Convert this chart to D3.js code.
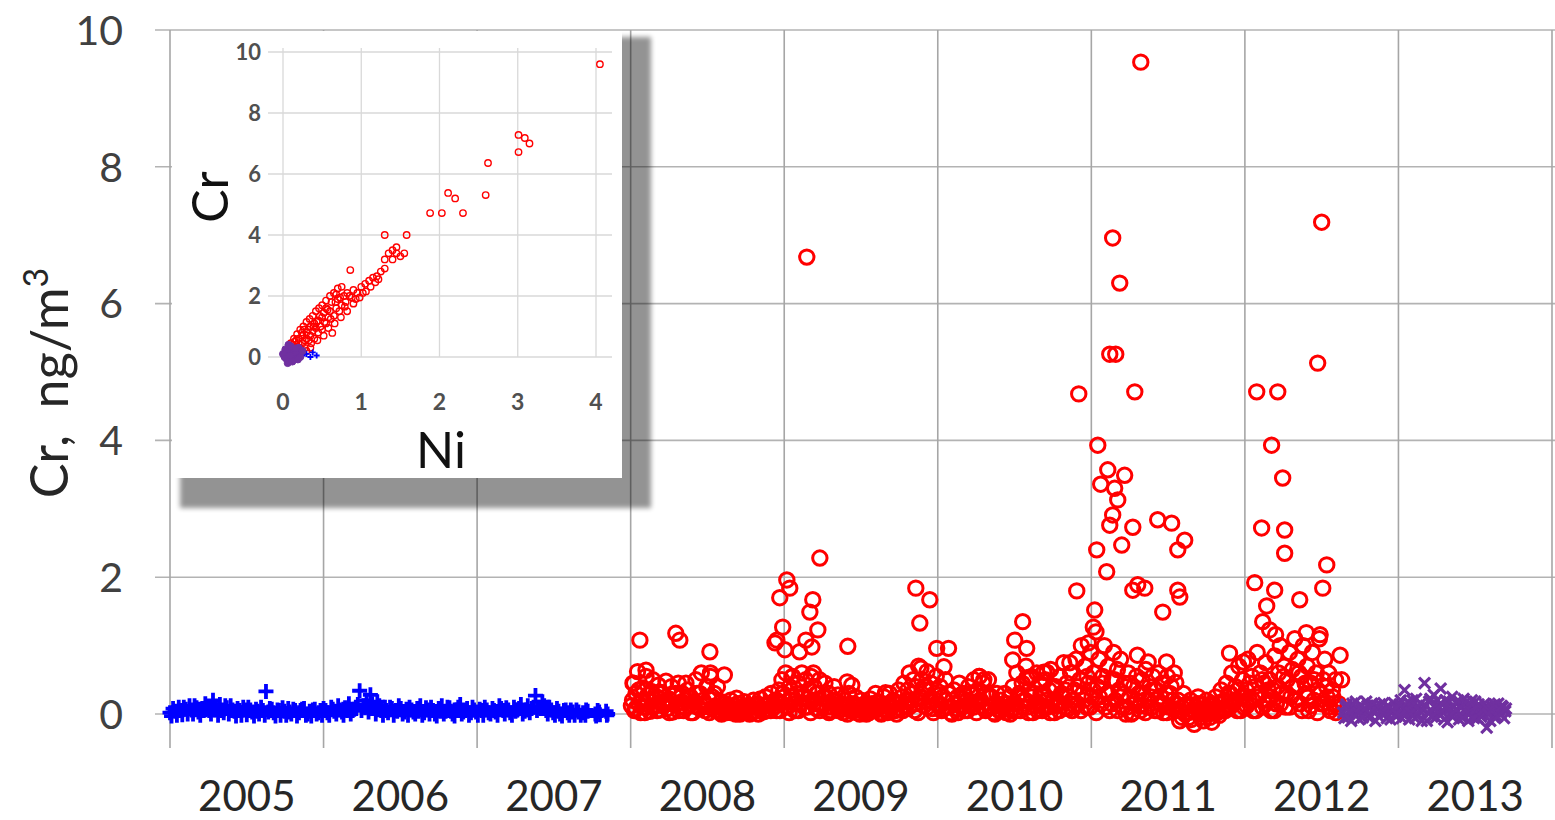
<!DOCTYPE html>
<html><head><meta charset="utf-8">
<script src="https://cdn.jsdelivr.net/npm/d3@7"></script>
<style>html,body{margin:0;padding:0;background:#fff;}svg{display:block;font-family:Lato,"Open Sans",sans-serif;}</style>
</head><body>
<svg id="chart" width="1555" height="820"></svg>
<script>
// ---------- data ----------
const yearTicks = [2005,2006,2007,2008,2009,2010,2011,2012,2013];
const yTicks = [0,2,4,6,8,10];
const insetXTicks = [0,1,2,3,4];
const insetYTicks = [0,2,4,6,8,10];

// Blue series (2005-2007): [decimal year, Cr ng/m3]
const blueSeries = [
[2005.00,0.02],[2005.02,0.08],[2005.045,-0.02],[2005.07,0.05],[2005.09,0.1],[2005.115,0.0],[2005.14,0.06],[2005.16,0.12],[2005.185,0.03],[2005.21,0.08],[2005.23,0.15],[2005.255,0.05],[2005.28,0.2],[2005.30,0.1],[2005.325,0.14],[2005.35,0.02],[2005.37,0.09],[2005.395,0.12],[2005.42,0.04],[2005.44,0.08],[2005.465,-0.02],[2005.49,0.06],[2005.51,0.1],[2005.535,0.03],[2005.56,0.07],[2005.58,0.0],[2005.605,0.05],[2005.625,0.33],[2005.65,0.08],[2005.675,0.02],[2005.70,0.06],[2005.72,-0.02],[2005.745,0.04],[2005.77,0.08],[2005.79,0.0],[2005.815,0.05],[2005.84,0.02],[2005.86,0.07],[2005.885,-0.02],[2005.91,0.04],[2005.93,0.06],[2005.955,0.0],[2005.98,0.05],
[2006.00,0.08],[2006.025,0.02],[2006.05,0.1],[2006.07,0.04],[2006.095,0.12],[2006.12,0.03],[2006.14,0.09],[2006.165,0.15],[2006.19,0.05],[2006.21,0.1],[2006.235,0.34],[2006.26,0.12],[2006.28,0.2],[2006.305,0.28],[2006.33,0.08],[2006.35,0.18],[2006.375,0.05],[2006.40,0.1],[2006.42,0.02],[2006.445,0.08],[2006.47,0.05],[2006.49,0.12],[2006.515,0.0],[2006.54,0.07],[2006.56,0.1],[2006.585,0.03],[2006.61,0.08],[2006.63,0.12],[2006.655,0.02],[2006.68,0.06],[2006.70,0.1],[2006.725,0.0],[2006.75,0.08],[2006.77,0.12],[2006.795,0.04],[2006.82,0.09],[2006.84,0.0],[2006.865,0.06],[2006.89,0.14],[2006.91,0.03],[2006.935,0.08],[2006.96,0.02],[2006.98,0.06],
[2007.005,-0.02],[2007.03,0.05],[2007.05,0.1],[2007.075,0.02],[2007.10,0.08],[2007.12,0.03],[2007.145,0.12],[2007.17,0.05],[2007.19,0.09],[2007.215,0.02],[2007.24,0.1],[2007.26,0.06],[2007.285,0.14],[2007.31,0.04],[2007.33,0.12],[2007.355,0.08],[2007.38,0.27],[2007.40,0.1],[2007.425,0.18],[2007.45,0.05],[2007.47,0.1],[2007.495,0.02],[2007.52,0.08],[2007.54,0.0],[2007.565,0.05],[2007.59,0.02],[2007.61,0.06],[2007.635,-0.02],[2007.66,0.03],[2007.69,0.02],[2007.705,-0.02],[2007.72,0.04],[2007.77,0.0],[2007.785,0.05],[2007.80,-0.01],[2007.84,0.04],[2007.85,0.0],
[2005.01,-0.03],[2005.033,0.04],[2005.057,0.1],[2005.08,-0.01],[2005.103,0.07],[2005.127,0.12],[2005.15,0.0],[2005.173,0.09],[2005.197,-0.02],[2005.22,0.05],[2005.243,0.1],[2005.267,0.0],[2005.29,0.06],[2005.313,-0.02],[2005.337,0.05],[2005.36,0.12],[2005.383,0.0],[2005.407,0.06],[2005.43,-0.03],[2005.453,0.05],[2005.477,0.1],[2005.50,-0.01],[2005.523,0.06],[2005.547,-0.03],[2005.57,0.04],[2005.593,0.1],[2005.617,-0.02],[2005.64,0.03],[2005.663,0.07],[2005.687,-0.03],[2005.71,0.05],[2005.733,0.09],[2005.757,-0.02],[2005.78,0.03],[2005.803,0.07],[2005.827,-0.03],[2005.85,0.05],[2005.873,0.08],[2005.897,0.0],[2005.92,-0.03],[2005.943,0.07],[2005.967,0.02],[2005.99,-0.02],
[2006.013,0.05],[2006.037,-0.02],[2006.06,0.07],[2006.083,0.0],[2006.107,0.06],[2006.13,-0.02],[2006.153,0.05],[2006.177,0.0],[2006.20,0.07],[2006.223,0.14],[2006.247,0.05],[2006.27,0.09],[2006.293,0.03],[2006.317,0.15],[2006.34,0.0],[2006.363,0.12],[2006.387,-0.02],[2006.41,0.05],[2006.433,0.1],[2006.457,-0.02],[2006.48,0.04],[2006.503,0.08],[2006.527,0.03],[2006.55,-0.02],[2006.573,0.06],[2006.597,0.0],[2006.62,0.04],[2006.643,-0.02],[2006.667,0.09],[2006.69,0.0],[2006.713,0.05],[2006.737,-0.03],[2006.76,0.04],[2006.783,0.0],[2006.807,0.1],[2006.83,0.04],[2006.853,-0.03],[2006.877,0.1],[2006.90,0.0],[2006.923,0.05],[2006.947,-0.02],[2006.97,0.1],[2006.993,0.03],
[2007.017,0.07],[2007.04,-0.02],[2007.063,0.06],[2007.087,0.0],[2007.11,0.05],[2007.133,-0.02],[2007.157,0.08],[2007.18,0.0],[2007.203,0.06],[2007.227,-0.02],[2007.25,0.04],[2007.273,0.08],[2007.297,0.0],[2007.32,0.06],[2007.343,0.02],[2007.367,0.1],[2007.39,0.05],[2007.413,0.08],[2007.437,0.12],[2007.46,0.0],[2007.483,0.06],[2007.507,-0.02],[2007.53,0.04],[2007.553,-0.03],[2007.577,0.06],[2007.60,-0.02],[2007.623,0.03],[2007.647,0.06],[2007.675,-0.02],[2007.71,0.06],[2007.775,-0.03],[2007.795,0.03],[2007.845,-0.02]
];

// Red series (2008-2012): [decimal year, Cr ng/m3]
const redSeries = [
[2008.005,0.12],[2008.015,0.45],[2008.025,0.05],[2008.035,0.3],[2008.045,0.62],[2008.055,0.15],[2008.065,0.02],[2008.08,0.38],[2008.09,0.1],[2008.1,0.55],[2008.11,0.2],[2008.125,0.04],[2008.135,0.33],[2008.145,0.5],[2008.16,0.12],[2008.17,0.25],[2008.18,0.42],[2008.195,0.06],[2008.205,0.3],[2008.215,0.18],[2008.23,0.48],[2008.24,0.08],[2008.25,0.22],[2008.265,0.4],[2008.275,0.03],[2008.285,0.28],[2008.3,0.15],[2008.31,0.45],[2008.32,0.1],[2008.335,0.3],[2008.345,0.05],[2008.355,0.2],[2008.37,0.35],[2008.38,0.12],[2008.39,0.25],[2008.405,0.02],[2008.415,0.18],[2008.425,0.5],[2008.44,0.1],[2008.45,0.3],[2008.46,0.6],[2008.475,0.15],[2008.485,0.05],[2008.495,0.4],[2008.51,0.22],[2008.52,0.55],[2008.53,0.08],[2008.545,0.3],[2008.555,0.12],[2008.565,0.4],[2008.58,0.03],[2008.59,0.18],[2008.6,0.08],[2008.615,0.15],[2008.625,0.02],[2008.635,0.1],[2008.65,0.2],[2008.66,0.05],[2008.67,0.12],[2008.685,0.0],[2008.695,0.15],[2008.705,0.06],[2008.72,0.1],[2008.73,0.02],[2008.74,0.18],[2008.755,0.08],[2008.765,0.12],[2008.775,0.0],[2008.79,0.1],[2008.8,0.2],[2008.81,0.05],[2008.825,0.15],[2008.835,0.08],[2008.845,0.22],[2008.86,0.03],[2008.87,0.12],[2008.88,0.25],[2008.895,0.06],[2008.905,0.15],[2008.915,0.3],[2008.93,0.1],[2008.94,0.2],[2008.95,0.05],
[2008.965,0.35],[2008.975,0.15],[2008.985,0.5],[2009.0,0.25],[2009.01,0.6],[2009.02,0.1],[2009.035,0.4],[2009.045,0.2],[2009.055,0.55],[2009.07,0.05],[2009.08,0.3],[2009.09,0.45],[2009.105,0.15],[2009.115,0.6],[2009.125,0.25],[2009.14,0.5],[2009.15,0.1],[2009.16,0.35],[2009.175,0.55],[2009.185,0.2],[2009.195,0.4],[2009.21,0.08],[2009.22,0.3],[2009.23,0.5],[2009.245,0.15],[2009.255,0.25],[2009.265,0.45],[2009.28,0.1],[2009.29,0.3],[2009.3,0.05],[2009.315,0.2],[2009.325,0.4],[2009.335,0.12],[2009.35,0.28],[2009.36,0.05],
[2009.37,0.15],[2009.385,0.02],[2009.395,0.2],[2009.405,0.1],[2009.42,0.3],[2009.43,0.05],[2009.44,0.42],[2009.455,0.15],[2009.465,0.25],[2009.475,0.02],[2009.49,0.12],[2009.5,0.2],[2009.51,0.05],[2009.525,0.15],[2009.535,0.0],[2009.545,0.1],[2009.56,0.22],[2009.57,0.05],[2009.58,0.12],[2009.595,0.3],[2009.605,0.08],[2009.615,0.18],[2009.63,0.02],[2009.64,0.12],[2009.65,0.25],[2009.665,0.05],[2009.675,0.15],[2009.685,0.3],[2009.7,0.1],[2009.71,0.2],[2009.72,0.05],[2009.735,0.15],[2009.745,0.35],[2009.755,0.08],
[2009.77,0.25],[2009.78,0.45],[2009.79,0.1],[2009.805,0.35],[2009.815,0.6],[2009.825,0.2],[2009.84,0.5],[2009.85,0.05],[2009.86,0.4],[2009.875,0.7],[2009.885,0.25],[2009.895,0.5],[2009.91,0.12],[2009.92,0.35],[2009.93,0.62],[2009.945,0.2],[2009.955,0.45],[2009.965,0.08],[2009.98,0.3],[2009.99,0.55],[2010.0,0.15],[2010.015,0.4],[2010.025,0.05],[2010.035,0.25],[2010.05,0.5],[2010.06,0.1],[2010.07,0.3],[2010.085,0.02],[2010.095,0.2],
[2010.105,0.35],[2010.12,0.08],[2010.13,0.25],[2010.14,0.45],[2010.155,0.1],[2010.165,0.3],[2010.175,0.05],[2010.19,0.2],[2010.2,0.4],[2010.21,0.12],[2010.225,0.28],[2010.235,0.5],[2010.245,0.15],[2010.26,0.35],[2010.27,0.55],[2010.28,0.2],[2010.295,0.45],[2010.305,0.08],[2010.315,0.3],[2010.33,0.5],[2010.34,0.1],[2010.35,0.25],[2010.365,0.02],[2010.375,0.15],[2010.385,0.3],[2010.4,0.05],[2010.41,0.2],[2010.42,0.1],[2010.435,0.3],[2010.445,0.02],[2010.455,0.15],[2010.47,0.25],[2010.48,0.05],[2010.49,0.4],
[2010.505,0.15],[2010.515,0.6],[2010.525,0.25],[2010.54,0.05],[2010.55,0.45],[2010.56,0.2],[2010.575,0.7],[2010.585,0.1],[2010.595,0.35],[2010.61,0.55],[2010.62,0.02],[2010.63,0.3],[2010.645,0.6],[2010.655,0.15],[2010.665,0.45],[2010.68,0.05],[2010.69,0.25],[2010.7,0.5],[2010.715,0.1],[2010.725,0.35],[2010.735,0.65],[2010.75,0.2],[2010.76,0.02],[2010.77,0.4],[2010.785,0.15],[2010.795,0.55],[2010.805,0.3],[2010.82,0.75],[2010.83,0.1],[2010.84,0.45],[2010.855,0.25],[2010.865,0.6],[2010.875,0.05],[2010.89,0.35],
[2010.9,0.8],[2010.91,0.15],[2010.925,0.5],[2010.935,1.0],[2010.945,0.3],[2010.96,0.7],[2010.97,0.1],[2010.98,0.45],[2010.995,0.9],[2011.005,0.25],[2011.015,0.6],[2011.03,1.2],[2011.04,0.4],[2011.05,0.8],[2011.065,0.15],[2011.075,0.55],[2011.085,1.0],[2011.1,0.3],[2011.11,0.7],[2011.12,0.05],[2011.135,0.5],[2011.145,0.9],[2011.155,0.2],[2011.17,0.65],[2011.18,0.35],[2011.19,0.8],[2011.205,0.1],[2011.215,0.45],[2011.225,0.0],[2011.24,0.6],[2011.25,0.25],[2011.26,0.0],[2011.275,0.4],[2011.285,0.15],[2011.295,0.55],
[2011.31,0.3],[2011.32,0.05],[2011.33,0.5],[2011.345,0.2],[2011.355,0.65],[2011.365,0.1],[2011.38,0.4],[2011.39,0.25],[2011.4,0.55],[2011.415,0.05],[2011.425,0.35],[2011.435,0.6],[2011.45,0.15],[2011.46,0.45],[2011.47,0.02],[2011.485,0.3],[2011.495,0.55],[2011.505,0.1],[2011.52,0.4],[2011.53,0.2],[2011.54,0.6],
[2011.555,0.05],[2011.565,0.2],[2011.575,-0.1],[2011.59,0.1],[2011.6,0.3],[2011.61,0.0],[2011.625,0.15],[2011.635,-0.05],[2011.645,0.2],[2011.66,0.05],[2011.67,-0.15],[2011.68,0.1],[2011.695,0.25],[2011.705,0.0],[2011.715,0.15],[2011.73,-0.1],[2011.74,0.05],[2011.75,0.2],[2011.765,0.0],[2011.775,0.12],[2011.785,-0.12],[2011.8,0.08],[2011.81,0.25],[2011.82,0.02],[2011.835,0.15],[2011.845,0.35],[2011.855,0.05],
[2011.87,0.2],[2011.88,0.45],[2011.89,0.1],[2011.905,0.3],[2011.915,0.6],[2011.925,0.15],[2011.94,0.4],[2011.95,0.05],[2011.96,0.7],[2011.975,0.25],[2011.985,0.5],[2011.995,0.1],[2012.01,0.35],[2012.02,0.8],[2012.03,0.2],[2012.045,0.55],[2012.055,0.05],[2012.065,0.4],[2012.08,0.9],[2012.09,0.25],[2012.1,0.6],[2012.115,0.1],[2012.125,0.45],[2012.135,0.75],[2012.15,0.2],[2012.16,0.5],[2012.17,0.05],[2012.185,0.35],[2012.195,0.85],[2012.205,0.15],[2012.22,0.6],[2012.23,1.0],[2012.24,0.3],[2012.255,0.7],[2012.265,0.1],[2012.275,0.5],[2012.29,0.9],[2012.3,0.25],[2012.31,0.65],[2012.325,1.1],[2012.335,0.4],[2012.345,0.8],[2012.36,0.15],[2012.37,0.55],[2012.38,1.0],[2012.395,0.3],[2012.405,0.7],[2012.415,0.05],[2012.43,0.45],[2012.44,0.9],[2012.45,0.2],[2012.465,0.6],[2012.475,0.35],[2012.485,1.1],[2012.5,0.15],[2012.51,0.5],[2012.52,0.8],[2012.535,0.25],[2012.545,0.6],[2012.555,0.05],[2012.57,0.35],[2012.58,0.15],[2012.59,0.5],[2012.6,0.1],
// low band, intermediate samples
[2008.012,0.2],[2008.032,0.08],[2008.052,0.35],[2008.072,0.18],[2008.092,0.02],[2008.112,0.28],[2008.132,0.1],[2008.152,0.22],[2008.172,0.05],[2008.192,0.32],[2008.212,0.12],[2008.232,0.2],[2008.252,0.02],[2008.272,0.15],[2008.292,0.3],[2008.312,0.05],[2008.332,0.18],[2008.352,0.1],[2008.372,0.25],[2008.392,0.02],[2008.412,0.12],[2008.432,0.3],[2008.452,0.08],[2008.472,0.2],[2008.492,0.12],[2008.512,0.02],[2008.532,0.25],[2008.552,0.05],
[2008.572,0.1],[2008.592,0.0],[2008.612,0.05],[2008.632,0.12],[2008.652,0.02],[2008.672,0.08],[2008.692,0.04],[2008.712,0.0],[2008.732,0.08],[2008.752,0.03],[2008.772,0.1],[2008.792,0.02],[2008.812,0.12],[2008.832,0.0],[2008.852,0.08],[2008.872,0.04],[2008.892,0.15],[2008.912,0.05],[2008.932,0.1],
[2008.952,0.2],[2008.972,0.05],[2008.992,0.3],[2009.012,0.12],[2009.032,0.02],[2009.052,0.25],[2009.072,0.15],[2009.092,0.05],[2009.112,0.3],[2009.132,0.1],[2009.152,0.22],[2009.172,0.02],[2009.192,0.15],[2009.212,0.3],[2009.232,0.05],[2009.252,0.12],[2009.272,0.25],[2009.292,0.02],[2009.312,0.1],[2009.332,0.2],[2009.352,0.05],
[2009.372,0.08],[2009.392,0.12],[2009.412,0.0],[2009.432,0.15],[2009.452,0.05],[2009.472,0.1],[2009.492,0.0],[2009.512,0.12],[2009.532,0.05],[2009.552,0.02],[2009.572,0.15],[2009.592,0.05],[2009.612,0.1],[2009.632,0.0],[2009.652,0.08],[2009.672,0.02],[2009.692,0.12],[2009.712,0.05],[2009.732,0.0],[2009.752,0.15],
[2009.772,0.05],[2009.792,0.2],[2009.812,0.1],[2009.832,0.3],[2009.852,0.15],[2009.872,0.02],[2009.892,0.25],[2009.912,0.4],[2009.932,0.1],[2009.952,0.2],[2009.972,0.02],[2009.992,0.15],[2010.012,0.28],[2010.032,0.08],[2010.052,0.2],[2010.072,0.1],[2010.092,0.0],
[2010.112,0.15],[2010.132,0.02],[2010.152,0.22],[2010.172,0.12],[2010.192,0.05],[2010.212,0.3],[2010.232,0.1],[2010.252,0.02],[2010.272,0.2],[2010.292,0.12],[2010.312,0.05],[2010.332,0.25],[2010.352,0.1],[2010.372,0.0],[2010.392,0.12],[2010.412,0.05],[2010.432,0.15],[2010.452,0.08],[2010.472,0.0],[2010.492,0.15],
[2010.512,0.05],[2010.532,0.3],[2010.552,0.1],[2010.572,0.2],[2010.592,0.02],[2010.612,0.25],[2010.632,0.12],[2010.652,0.05],[2010.672,0.3],[2010.692,0.1],[2010.712,0.2],[2010.732,0.02],[2010.752,0.4],[2010.772,0.12],[2010.792,0.05],[2010.812,0.25],[2010.832,0.35],[2010.852,0.08],[2010.872,0.2],[2010.892,0.12],
[2010.912,0.4],[2010.932,0.05],[2010.952,0.2],[2010.972,0.55],[2010.992,0.1],[2011.012,0.35],[2011.032,0.02],[2011.052,0.25],[2011.072,0.45],[2011.092,0.1],[2011.112,0.3],[2011.132,0.15],[2011.152,0.5],[2011.172,0.05],[2011.192,0.25],[2011.212,0.3],[2011.232,0.1],[2011.252,0.45],[2011.272,0.02],[2011.292,0.2],
[2011.312,0.12],[2011.332,0.3],[2011.352,0.02],[2011.372,0.2],[2011.392,0.1],[2011.412,0.35],[2011.432,0.05],[2011.452,0.25],[2011.472,0.15],[2011.492,0.02],[2011.512,0.3],[2011.532,0.08],[2011.552,0.15],
[2011.572,0.05],[2011.592,-0.05],[2011.612,0.12],[2011.632,0.02],[2011.652,-0.08],[2011.672,0.05],[2011.692,0.15],[2011.712,-0.05],[2011.732,0.08],[2011.752,0.0],[2011.772,-0.05],[2011.792,0.15],[2011.812,0.05],[2011.832,-0.02],[2011.852,0.18],
[2011.872,0.05],[2011.892,0.3],[2011.912,0.12],[2011.932,0.2],[2011.952,0.35],[2011.972,0.05],[2011.992,0.25],[2012.012,0.12],[2012.032,0.45],[2012.052,0.2],[2012.072,0.05],[2012.092,0.3],[2012.112,0.5],[2012.132,0.15],[2012.152,0.35],[2012.172,0.25],[2012.192,0.05],[2012.212,0.4],[2012.232,0.15],[2012.252,0.55],[2012.272,0.3],[2012.292,0.1],[2012.312,0.4],[2012.332,0.2],[2012.352,0.6],[2012.372,0.05],[2012.392,0.45],[2012.412,0.25],[2012.432,0.12],[2012.452,0.5],[2012.472,0.02],[2012.492,0.3],[2012.512,0.15],[2012.532,0.4],[2012.552,0.1],[2012.572,0.25],[2012.592,0.02],[2012.61,0.15],
// peaks
[2009.147,6.68],[2011.322,9.53],[2012.500,7.19],[2011.139,6.96],[2011.185,6.30],[2011.120,5.26],[2011.159,5.26],[2010.918,4.68],[2011.283,4.71],[2012.077,4.71],[2012.214,4.71],[2012.474,5.13],
[2011.042,3.93],[2012.174,3.93],[2011.107,3.57],[2011.217,3.49],[2011.061,3.36],[2011.152,3.30],[2012.246,3.45],[2011.172,3.13],[2011.139,2.91],[2011.120,2.76],[2011.432,2.84],[2011.523,2.79],[2011.608,2.54],[2011.563,2.40],[2011.270,2.73],[2011.198,2.47],[2011.035,2.40],[2011.100,2.08],
[2012.109,2.72],[2012.259,2.69],[2012.259,2.35],[2011.302,1.89],[2011.270,1.81],[2011.348,1.84],[2011.563,1.81],[2011.576,1.71],[2011.465,1.49],[2012.064,1.92],[2012.194,1.81],[2012.357,1.67],[2012.533,2.18],[2012.507,1.84],[2010.905,1.80],[2011.022,1.52],[2012.142,1.58],[2012.116,1.35],[2012.161,1.23],[2012.20,1.16],
[2011.013,1.27],[2010.98,1.04],[2011.30,0.86],[2011.37,0.76],[2011.49,0.76],[2011.55,0.46],[2011.90,0.89],[2011.99,0.76],[2012.49,1.16],[2012.40,1.19],[2012.62,0.86],[2012.63,0.5],[2010.86,0.75],[2010.71,0.61],[2010.60,0.53],
[2009.232,2.28],[2009.017,1.96],[2009.036,1.84],[2008.971,1.70],[2009.186,1.67],[2009.167,1.49],[2009.219,1.23],[2009.141,1.08],[2008.952,1.08],[2009.004,0.94],[2009.414,0.99],[2009.10,0.91],[2009.18,0.98],[2008.99,1.27],[2008.94,1.04],
[2009.857,1.84],[2009.948,1.67],[2009.883,1.33],[2009.993,0.96],[2010.07,0.96],[2009.89,0.67],[2010.04,0.69],
[2008.060,1.08],[2008.294,1.18],[2008.320,1.08],[2008.516,0.91],[2008.10,0.64],[2008.02,0.45],[2008.36,0.45],[2008.52,0.6],[2008.61,0.57],[2008.69,0.23],[2009.05,0.54],[2009.19,0.6],[2009.41,0.47],[2009.66,0.31],
[2010.553,1.35],[2010.501,1.08],[2010.579,0.96],[2010.488,0.79],[2010.58,0.53],[2010.69,0.61],[2010.27,0.55],[2010.30,0.5]
];

// Purple series (2012-2013): [decimal year, Cr ng/m3]
const purpleSeries = [
[2012.64,0.02],[2012.655,0.1],[2012.67,-0.05],[2012.685,0.06],[2012.70,0.15],[2012.715,0.0],[2012.73,0.08],[2012.745,-0.08],[2012.76,0.12],[2012.775,0.03],[2012.79,0.18],[2012.805,-0.02],[2012.82,0.1],[2012.835,0.05],[2012.85,-0.1],[2012.865,0.08],[2012.88,0.14],[2012.895,0.0],[2012.91,0.06],[2012.925,-0.06],[2012.94,0.1],[2012.955,0.02],[2012.97,0.16],[2012.985,-0.04],[2013.0,0.08],[2013.015,0.2],[2013.03,0.0],[2013.04,0.35],[2013.055,0.1],[2013.07,-0.08],[2013.085,0.12],[2013.10,0.04],[2013.115,0.22],[2013.13,-0.02],[2013.145,0.15],[2013.16,0.06],[2013.17,0.45],[2013.185,-0.1],[2013.20,0.18],[2013.215,0.05],[2013.23,0.28],[2013.245,-0.05],[2013.26,0.12],[2013.275,0.37],[2013.29,0.02],[2013.305,0.2],[2013.32,-0.12],[2013.335,0.08],[2013.35,0.25],[2013.365,0.0],[2013.38,0.15],[2013.395,-0.08],[2013.41,0.1],[2013.425,0.22],[2013.44,0.03],[2013.455,-0.1],[2013.47,0.14],[2013.485,0.05],[2013.50,0.18],[2013.515,-0.06],[2013.53,0.1],[2013.545,0.0],[2013.56,0.15],[2013.575,-0.2],[2013.59,0.06],[2013.605,0.12],[2013.62,-0.04],[2013.635,0.08],[2013.65,0.15],[2013.665,0.0],[2013.68,0.1],[2013.695,0.04],
[2012.648,-0.06],[2012.662,0.14],[2012.678,0.04],[2012.692,-0.1],[2012.708,0.08],[2012.722,0.18],[2012.738,0.02],[2012.752,0.1],[2012.768,-0.05],[2012.782,0.08],[2012.798,0.12],[2012.812,-0.06],[2012.828,0.15],[2012.842,0.02],[2012.858,0.12],[2012.872,-0.04],[2012.888,0.06],[2012.902,0.16],[2012.918,0.02],[2012.932,0.12],[2012.948,-0.08],[2012.962,0.06],[2012.978,0.1],[2012.992,0.0],[2013.008,0.14],[2013.022,-0.06],[2013.048,0.06],[2013.062,0.18],[2013.078,0.02],[2013.092,0.2],[2013.108,-0.06],[2013.122,0.1],[2013.138,0.05],[2013.152,-0.1],[2013.178,0.12],[2013.192,0.02],[2013.208,0.22],[2013.222,-0.04],[2013.238,0.1],[2013.252,0.2],[2013.268,0.0],[2013.282,0.14],[2013.298,-0.08],[2013.312,0.1],[2013.328,0.18],[2013.342,-0.02],[2013.358,0.12],[2013.372,0.06],[2013.388,0.2],[2013.402,0.0],[2013.418,-0.06],[2013.432,0.16],[2013.448,0.08],[2013.462,0.0],[2013.478,0.2],[2013.492,-0.06],[2013.508,0.08],[2013.522,0.14],[2013.538,-0.04],[2013.552,0.06],[2013.568,0.1],[2013.582,0.0],[2013.598,-0.1],[2013.612,0.06],[2013.628,0.14],[2013.642,-0.04],[2013.658,0.06],[2013.672,0.12],[2013.688,-0.06],[2013.70,0.08]
];

// Inset: Cr vs Ni  [Ni, Cr]
const insetRed = [
[0.05,0.1],[0.08,0.3],[0.1,0.15],[0.12,0.4],[0.15,0.25],[0.15,0.5],[0.18,0.35],[0.2,0.6],[0.22,0.3],[0.25,0.7],[0.25,0.45],[0.28,0.55],[0.3,0.8],[0.3,0.6],[0.32,0.9],[0.35,0.7],[0.35,1.0],[0.38,0.85],[0.4,0.6],[0.4,1.1],[0.42,0.95],[0.45,0.8],[0.45,1.2],[0.48,1.0],[0.5,1.3],[0.5,0.9],[0.52,1.45],[0.55,1.1],[0.55,1.6],[0.58,1.3],[0.63,0.79],[0.6,1.5],[0.62,1.8],[0.65,1.35],[0.68,1.6],[0.7,1.9],[0.72,1.5],[0.75,1.7],[0.78,2.0],[0.8,1.8],[0.82,2.1],[0.86,2.85],[0.88,1.95],[0.9,2.2],[0.95,2.1],[1.0,2.3],[1.05,2.4],[1.1,2.5],[1.15,2.6],[1.2,2.65],[1.25,2.8],[1.3,2.9],[1.3,3.2],[1.35,3.4],[1.4,3.5],[1.45,3.6],[1.5,3.3],[1.55,3.4],[1.3,4.0],[1.58,4.0],
[0.1,0.45],[0.14,0.6],[0.18,0.75],[0.22,0.9],[0.26,1.0],[0.3,1.15],[0.34,1.25],[0.38,1.35],[0.42,1.5],[0.46,1.6],[0.5,1.7],[0.55,1.85],[0.6,2.0],[0.65,2.1],[0.7,2.25],[0.2,0.15],[0.28,0.3],[0.36,0.45],[0.44,0.55],[0.52,0.7],[0.58,0.95],[0.66,1.1],[0.74,1.3],[0.82,1.5],[0.9,1.75],[0.98,1.95],[1.06,2.15],[1.12,2.3],[1.18,2.45],[1.22,2.55],[0.75,2.3],[0.68,2.05],[1.4,3.2],[1.45,3.4],
[0.17,0.55],[0.24,0.8],[0.33,0.55],[0.39,1.0],[0.47,1.35],[0.53,1.15],[0.61,1.25],[0.67,1.8],[0.73,1.95],[0.79,1.65],[0.85,2.0],[0.93,1.9],[1.02,2.1],[0.57,1.55],[0.43,1.15],[0.27,0.9],[0.12,0.25],[0.07,0.2],[0.2,0.45],
[1.88,4.72],[2.03,4.72],[2.3,4.72],[2.11,5.38],[2.2,5.2],[2.59,5.31],[2.62,6.36],[3.01,6.72],[3.01,7.28],[3.09,7.18],[3.15,7.0],[4.05,9.6],[0.3,0.2],[0.35,0.3]
];
const insetBlue = [[0.43,0.05],[0.3,0.1],[0.35,0.0],[0.25,0.05],[0.2,-0.05],[0.38,0.15]];
const insetPurple = [[0.02,0.0],[0.05,0.1],[0.08,-0.1],[0.1,0.2],[0.12,0.05],[0.15,-0.05],[0.03,0.25],[0.18,0.1],[0.2,0.3],[0.06,-0.2],[0.1,0.35],[0.14,0.15],[0.22,0.0],[0.25,0.2],[0.0,0.1],[0.04,-0.05],[0.16,0.28],[0.09,0.05],[0.12,-0.15],[0.19,-0.08],[0.07,0.4]];

// ---------- drawing ----------
const svg = d3.select('#chart');
const x = d3.scaleLinear().domain([2005,2014]).range([170,1552]);
const y = d3.scaleLinear().domain([0,10]).range([714,30]);

const defs = svg.append('defs');
defs.append('filter').attr('id','blur').attr('x','-10%').attr('y','-10%').attr('width','120%').attr('height','120%')
  .append('feGaussianBlur').attr('stdDeviation',2.5);

// grid
const grid = svg.append('g');
grid.selectAll('line.h').data(yTicks).join('line')
  .attr('x1',155).attr('x2',1555).attr('y1',d=>y(d)).attr('y2',d=>y(d))
  .attr('stroke','#b3b3b3').attr('stroke-width',1.6);
grid.selectAll('line.v').data(yearTicks.concat([2014])).join('line')
  .attr('x1',d=>x(d)).attr('x2',d=>x(d)).attr('y1',30).attr('y2',748)
  .attr('stroke','#a6a6a6').attr('stroke-width',1.6);

// y tick labels
svg.append('g').selectAll('text').data(yTicks).join('text')
  .attr('x',123).attr('y',d=>y(d)).attr('dy','0.36em').attr('text-anchor','end')
  .attr('font-size',41).attr('fill','#404040').text(d=>d);

// year labels
svg.append('g').selectAll('text').data(yearTicks).join('text')
  .attr('x',d=>x(d+0.5)).attr('y',811).attr('text-anchor','middle')
  .attr('font-size',42).attr('fill','#262626').text(d=>d);

// y title
const yt = svg.append('text').attr('transform','translate(68,383) rotate(-90)')
  .attr('text-anchor','middle').attr('font-size',52).attr('fill','#262626')
  .attr('xml:space','preserve');
yt.append('tspan').text('Cr,  ng/m');
yt.append('tspan').attr('dy',-20).attr('font-size',34).text('3');

// data
svg.append('g').selectAll('path').data(blueSeries).join('path')
  .attr('transform',d=>`translate(${x(d[0])},${y(d[1])})`)
  .attr('d','M-7.5,0H7.5M0,-7.5V7.5').attr('stroke','#0000ff').attr('stroke-width',3.8).attr('fill','none');

svg.append('g').selectAll('circle').data(redSeries).join('circle')
  .attr('cx',d=>x(d[0])).attr('cy',d=>y(d[1])).attr('r',7.2)
  .attr('fill','none').attr('stroke','#ff0000').attr('stroke-width',3);

svg.append('g').selectAll('path').data(purpleSeries).join('path')
  .attr('transform',d=>`translate(${x(d[0])},${y(d[1])})`)
  .attr('d','M-5.5,-5.5L5.5,5.5M5.5,-5.5L-5.5,5.5').attr('stroke','#7030a0').attr('stroke-width',3.2).attr('fill','none');

// ---------- inset ----------
svg.append('rect').attr('x',180).attr('y',37).attr('width',471).attr('height',471)
  .attr('fill','#000').attr('opacity',0.42).attr('filter','url(#blur)');
svg.append('rect').attr('x',172).attr('y',31).attr('width',450).attr('height',447).attr('fill','#fff');

const xi = d3.scaleLinear().domain([0,4]).range([283,596]);
const yi = d3.scaleLinear().domain([0,10]).range([357,52]);
const ig = svg.append('g');
ig.selectAll('line.h').data(insetYTicks).join('line')
  .attr('x1',268).attr('x2',612).attr('y1',d=>yi(d)).attr('y2',d=>yi(d))
  .attr('stroke','#d9d9d9').attr('stroke-width',1.3);
ig.selectAll('line.v').data(insetXTicks).join('line')
  .attr('x1',d=>xi(d)).attr('x2',d=>xi(d)).attr('y1',48).attr('y2',357)
  .attr('stroke','#d9d9d9').attr('stroke-width',1.3);
ig.selectAll('text.yl').data(insetYTicks).join('text')
  .attr('x',261).attr('y',d=>yi(d)).attr('dy','0.36em').attr('text-anchor','end')
  .attr('font-size',22).attr('font-weight','bold').attr('fill','#505050').text(d=>d);
ig.selectAll('text.xl').data(insetXTicks).join('text')
  .attr('x',d=>xi(d)).attr('y',410).attr('text-anchor','middle')
  .attr('font-size',23).attr('font-weight','bold').attr('fill','#505050').text(d=>d);
ig.append('text').attr('x',441).attr('y',468).attr('text-anchor','middle')
  .attr('font-size',50).attr('fill','#111').text('Ni');
ig.append('text').attr('transform','translate(228,197) rotate(-90)').attr('text-anchor','middle')
  .attr('font-size',50).attr('fill','#111').text('Cr');

ig.append('g').selectAll('circle').data(insetRed).join('circle')
  .attr('cx',d=>xi(d[0])).attr('cy',d=>yi(d[1])).attr('r',3.2)
  .attr('fill','none').attr('stroke','#ff0000').attr('stroke-width',1.4);
ig.append('g').selectAll('path').data(insetBlue).join('path')
  .attr('transform',d=>`translate(${xi(d[0])},${yi(d[1])})`)
  .attr('d','M-3,0H3M0,-3V3').attr('stroke','#0000ff').attr('stroke-width',1.8);
ig.append('g').selectAll('circle').data(insetPurple).join('circle')
  .attr('cx',d=>xi(d[0])).attr('cy',d=>yi(d[1])).attr('r',3.5)
  .attr('fill','#7030a0').attr('stroke','#7030a0').attr('stroke-width',1);
</script>
</body></html>
